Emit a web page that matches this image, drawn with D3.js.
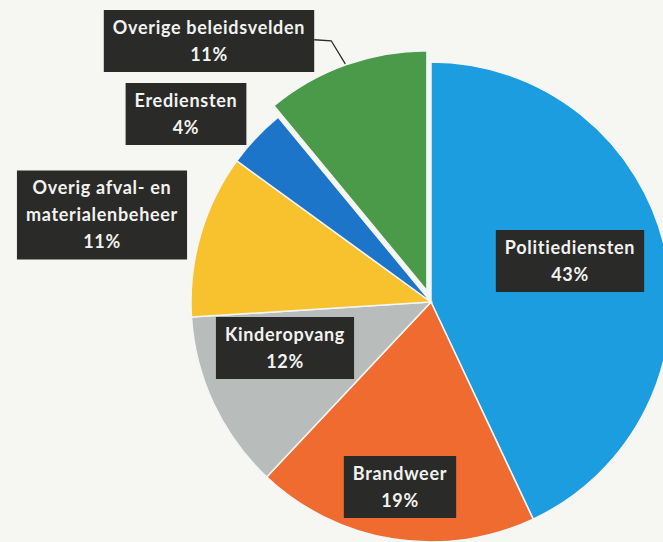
<!DOCTYPE html>
<html>
<head>
<meta charset="utf-8">
<script src="https://cdn.jsdelivr.net/npm/d3@7"></script>
<style>
  html, body { margin: 0; padding: 0; background: #f6f6f3; }
  svg { display: block; }
</style>
</head>
<body>
<svg id="chart" width="663" height="542"></svg>
<script>
// ---- data ----
const categories = ["Politiediensten", "Brandweer", "Kinderopvang", "Overig afval- en materialenbeheer", "Erediensten", "Overige beleidsvelden"];
const values = [43, 19, 12, 11, 4, 11];
const labelLines = [
  ["Politiediensten"],
  ["Brandweer"],
  ["Kinderopvang"],
  ["Overig afval- en", "materialenbeheer"],
  ["Erediensten"],
  ["Overige beleidsvelden"]
];
const colors = ["#1c9de0", "#ef6b2f", "#b8bcbb", "#f8c22e", "#1d75c9", "#4b9a49"];

// ---- layout ----
const W = 663, H = 542;
const cx = 431, cy = 302, R = 240;
const explodeIndex = 5, explodeDist = 12;
const labelCenters = [[570, 261], [400, 487], [285, 348], [102, 215], [186, 114], [209, 41]];
const fontSize = 18, letterSp = 0.7, lineH = 27, padX = 9, padY = 8;

const svg = d3.select("#chart");
svg.append("rect").attr("width", W).attr("height", H).attr("fill", "#f6f6f3");

const pie = d3.pie().sort(null).value(d => d)(values);
const arc = d3.arc().innerRadius(0).outerRadius(R);

const g = svg.append("g").attr("transform", `translate(${cx},${cy})`);

function offset(d, i) {
  if (i !== explodeIndex) return [0, 0];
  const a = (d.startAngle + d.endAngle) / 2;
  return [Math.sin(a) * explodeDist, -Math.cos(a) * explodeDist];
}

g.selectAll("path.slice")
  .data(pie)
  .join("path")
  .attr("class", "slice")
  .attr("d", arc)
  .attr("fill", (d, i) => colors[i])
  .attr("stroke", "#f4f6f6")
  .attr("stroke-width", 1.5)
  .attr("transform", (d, i) => { const o = offset(d, i); return `translate(${o[0]},${o[1]})`; });

const leaderLayer = svg.append("g");

// labels
const lab = svg.append("g")
  .attr("font-family", "Lato, 'Open Sans', sans-serif")
  .attr("font-weight", "bold")
  .attr("font-size", fontSize)
  .attr("letter-spacing", letterSp);

const boxes = [];
pie.forEach((d, i) => {
  const lines = labelLines[i].concat([values[i] + "%"]);
  const [lx, ly] = labelCenters[i];
  const grp = lab.append("g");
  const rect = grp.append("rect").attr("fill", "#2a2a28");
  const totalH = lines.length * lineH;
  const texts = grp.selectAll("text")
    .data(lines)
    .join("text")
    .attr("x", lx)
    .attr("y", (t, k) => ly - totalH / 2 + lineH * (k + 0.5))
    .attr("dy", "0.36em")
    .attr("text-anchor", "middle")
    .attr("fill", "#f2f2f0")
    .text(t => t);
  let maxW = 0;
  texts.each(function () { maxW = Math.max(maxW, this.getComputedTextLength()); });
  const bw = maxW + padX * 2, bh = totalH + padY;
  rect.attr("x", lx - bw / 2).attr("y", ly - bh / 2).attr("width", bw).attr("height", bh);
  boxes[i] = { x0: lx - bw / 2, x1: lx + bw / 2, y0: ly - bh / 2, y1: ly + bh / 2 };
});

// leader line for the exploded slice
{
  const d = pie[explodeIndex];
  const o = offset(d, explodeIndex);
  const a = (d.startAngle + d.endAngle) / 2;
  const ex = cx + o[0] + Math.sin(a) * (R + 1);
  const ey = cy + o[1] - Math.cos(a) * (R + 1);
  const b = boxes[explodeIndex];
  const sy = b.y0 + (b.y1 - b.y0) * 0.48;
  leaderLayer.append("polyline")
    .attr("points", `${b.x1},${sy} ${b.x1 + 17},${sy + 1} ${ex},${ey}`)
    .attr("fill", "none")
    .attr("stroke", "#2a2a28")
    .attr("stroke-width", 1.3);
}
</script>
</body>
</html>
